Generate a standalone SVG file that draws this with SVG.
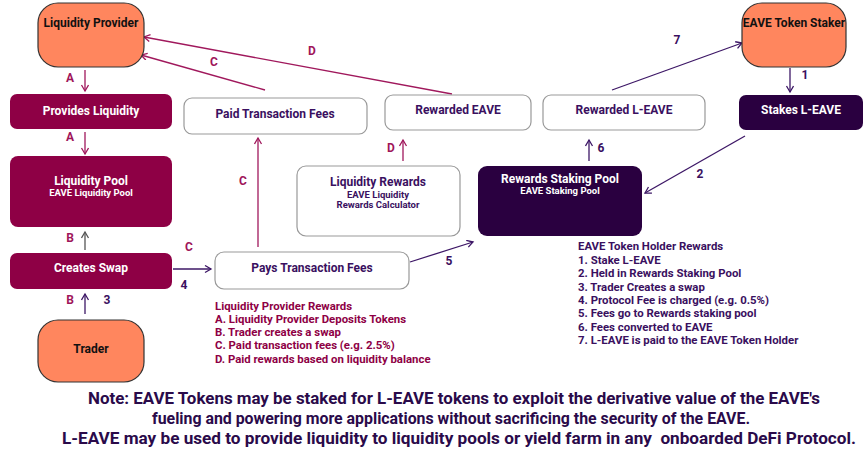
<svg xmlns="http://www.w3.org/2000/svg" width="868" height="452" viewBox="0 0 868 452">
<style>
text{font-family:Roboto,"Liberation Sans",sans-serif;font-weight:bold}
.actor rect{fill:#FF865E;stroke:#333;stroke-width:1.2}
.actor text{fill:#111;font-size:12px;text-anchor:middle}
.mar rect{fill:#8E0045}
.dark rect{fill:#2A0040}
.mar text,.dark text{fill:#fff;text-anchor:middle}
.wht rect{fill:#fff;stroke:#999;stroke-width:1.2}
.wht text{fill:#3A1060;text-anchor:middle}
.t{font-size:12px}
.s{font-size:9.5px}
.lm{fill:#A0155A;font-size:12px}
.lp{fill:#3A1060;font-size:12px}
.cm{stroke:#A0185C;stroke-width:1.3;fill:none;marker-end:url(#am)}
.cp{stroke:#3D1766;stroke-width:1.3;fill:none;marker-end:url(#ap)}
.cg{stroke:#555;stroke-width:1.3;fill:none;marker-end:url(#ag)}
.list{font-size:11.4px}
</style>
<defs>
<marker id="am" markerUnits="userSpaceOnUse" markerWidth="10" markerHeight="10" refX="7" refY="4" orient="auto"><path d="M1,0.5 L7,4 L1,7.5" fill="none" stroke="#A0185C" stroke-width="1.3"/></marker>
<marker id="ap" markerUnits="userSpaceOnUse" markerWidth="10" markerHeight="10" refX="7" refY="4" orient="auto"><path d="M1,0.5 L7,4 L1,7.5" fill="none" stroke="#3D1766" stroke-width="1.3"/></marker>
<marker id="ag" markerUnits="userSpaceOnUse" markerWidth="10" markerHeight="10" refX="7" refY="4" orient="auto"><path d="M1,0.5 L7,4 L1,7.5" fill="none" stroke="#555" stroke-width="1.3"/></marker>
</defs>
<rect width="868" height="452" fill="#fff"/>

<g id="connectors">
<line class="cm" x1="85" y1="70" x2="85" y2="91"/>
<line class="cm" x1="85" y1="132" x2="85" y2="154"/>
<line class="cg" x1="85" y1="250" x2="85" y2="232"/>
<line class="cp" x1="85" y1="314" x2="85" y2="294"/>
<line class="cp" x1="173" y1="269" x2="211" y2="269"/>
<line class="cm" x1="258" y1="247" x2="258" y2="138"/>
<line class="cm" x1="265" y1="90" x2="141" y2="55"/>
<line class="cm" x1="452" y1="94" x2="144" y2="37"/>
<line class="cm" x1="403" y1="161" x2="403" y2="140"/>
<line class="cp" x1="589" y1="161" x2="589" y2="140"/>
<line class="cp" x1="612" y1="90" x2="742" y2="43"/>
<line class="cp" x1="790" y1="68" x2="790" y2="92"/>
<line class="cp" x1="745" y1="136" x2="645" y2="193"/>
<line class="cp" x1="410" y1="262" x2="473" y2="242"/>
</g>

<g id="labels">
<text class="lm" x="70" y="82" text-anchor="middle">A</text>
<text class="lm" x="70" y="141" text-anchor="middle">A</text>
<text class="lm" x="70" y="242" text-anchor="middle">B</text>
<text class="lm" x="70" y="304" text-anchor="middle">B</text>
<text class="lp" x="107" y="304" text-anchor="middle">3</text>
<text class="lm" x="189" y="251" text-anchor="middle">C</text>
<text class="lp" x="184" y="289" text-anchor="middle">4</text>
<text class="lm" x="243" y="185" text-anchor="middle">C</text>
<text class="lm" x="214" y="66" text-anchor="middle">C</text>
<text class="lm" x="312" y="55" text-anchor="middle">D</text>
<text class="lm" x="391" y="152" text-anchor="middle">D</text>
<text class="lp" x="601" y="152" text-anchor="middle">6</text>
<text class="lp" x="677" y="44" text-anchor="middle">7</text>
<text class="lp" x="805" y="79" text-anchor="middle">1</text>
<text class="lp" x="700" y="178" text-anchor="middle">2</text>
<text class="lp" x="449" y="265" text-anchor="middle">5</text>
</g>

<g id="liquidity-provider" class="actor"><rect x="38" y="3" width="106" height="64" rx="20"/><text x="91" y="27">Liquidity Provider</text></g>
<g id="eave-token-staker" class="actor"><rect x="742" y="3" width="104" height="64" rx="20"/><text x="794" y="27">EAVE Token Staker</text></g>
<g id="trader" class="actor"><rect x="38" y="320" width="106" height="62" rx="20"/><text x="91" y="353">Trader</text></g>

<g id="provides-liquidity" class="mar"><rect x="10" y="94" width="162" height="35" rx="7"/><text class="t" x="91" y="115">Provides Liquidity</text></g>
<g id="liquidity-pool" class="mar"><rect x="10" y="156" width="162" height="71" rx="8"/><text class="t" x="91" y="185">Liquidity Pool</text><text class="s" x="91" y="196">EAVE Liquidity Pool</text></g>
<g id="creates-swap" class="mar"><rect x="10" y="253" width="162" height="36" rx="7"/><text class="t" x="91" y="272">Creates Swap</text></g>

<g id="paid-transaction-fees" class="wht"><rect x="184" y="98" width="183" height="36" rx="8"/><text class="t" x="275" y="118">Paid Transaction Fees</text></g>
<g id="rewarded-eave" class="wht"><rect x="385" y="95" width="146" height="35" rx="8"/><text class="t" x="458" y="114">Rewarded EAVE</text></g>
<g id="rewarded-l-eave" class="wht"><rect x="543" y="95" width="162" height="35" rx="8"/><text class="t" x="624" y="114">Rewarded L-EAVE</text></g>
<g id="stakes-l-eave" class="dark"><rect x="739" y="95" width="124" height="35" rx="7"/><text class="t" x="801" y="114">Stakes L-EAVE</text></g>
<g id="liquidity-rewards" class="wht"><rect x="297" y="166" width="163" height="70" rx="9"/><text class="t" x="378" y="186">Liquidity Rewards</text><text class="s" x="378" y="197.5">EAVE Liquidity</text><text class="s" x="378" y="208">Rewards Calculator</text></g>
<g id="rewards-staking-pool" class="dark"><rect x="478" y="166" width="164" height="70" rx="9"/><text class="t" x="560" y="183">Rewards Staking Pool</text><text class="s" x="560" y="194">EAVE Staking Pool</text></g>
<g id="pays-transaction-fees" class="wht"><rect x="215" y="252" width="194" height="37" rx="9"/><text class="t" x="312" y="272">Pays Transaction Fees</text></g>

<g id="holder-rewards" fill="#3A1060" class="list">
<text x="578" y="250">EAVE Token Holder Rewards</text>
<text x="578" y="264">1. Stake L-EAVE</text>
<text x="578" y="277">2. Held in Rewards Staking Pool</text>
<text x="578" y="291">3. Trader Creates a swap</text>
<text x="578" y="304">4. Protocol Fee is charged (e.g. 0.5%)</text>
<text x="578" y="317">5. Fees go to Rewards staking pool</text>
<text x="578" y="331">6. Fees converted to EAVE</text>
<text x="578" y="344">7. L-EAVE is paid to the EAVE Token Holder</text>
</g>

<g id="lp-rewards" fill="#8E0045" class="list">
<text x="215" y="310">Liquidity Provider Rewards</text>
<text x="215" y="323">A. Liquidity Provider Deposits Tokens</text>
<text x="215" y="336">B. Trader creates a swap</text>
<text x="215" y="349">C. Paid transaction fees (e.g. 2.5%)</text>
<text x="215" y="363">D. Paid rewards based on liquidity balance</text>
</g>

<g id="note" fill="#2A0A4A" font-size="16">
<text x="88" y="404" textLength="732" lengthAdjust="spacingAndGlyphs">Note: EAVE Tokens may be staked for L-EAVE tokens to exploit the derivative value of the EAVE's</text>
<text x="152" y="424" textLength="598" lengthAdjust="spacingAndGlyphs">fueling and powering more applications without sacrificing the security of the EAVE.</text>
<text x="62" y="444" textLength="794" lengthAdjust="spacingAndGlyphs" style="white-space:pre">L-EAVE may be used to provide liquidity to liquidity pools or yield farm in any  onboarded DeFi Protocol.</text>
</g>
</svg>
